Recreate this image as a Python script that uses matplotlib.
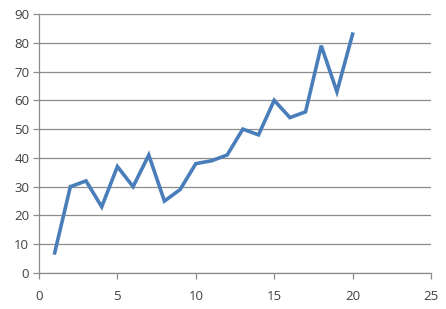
import matplotlib
matplotlib.use("Agg")
import matplotlib.pyplot as plt

x_vals = list(range(1, 21))
y_vals = [7, 30, 32, 23, 37, 30, 41, 25, 29, 38, 39, 41, 50, 48, 60, 54, 56, 79, 63, 83]

plt.rcParams['font.family'] = ['Open Sans', 'DejaVu Sans']

fig = plt.figure(figsize=(4.46, 3.09), dpi=100)
ax = fig.add_axes([39/446, 36/309, 392/446, 259/309])

ax.plot(x_vals, y_vals, color='#4a7ebb', linewidth=2.6, solid_joinstyle='miter')

ax.set_xlim(0, 25)
ax.set_ylim(0, 90)
ax.set_xticks(range(0, 26, 5))
ax.set_yticks(range(0, 91, 10))
ax.yaxis.grid(True, color='#8c8c8c', linewidth=0.9)
ax.set_axisbelow(True)

for s in ['top', 'right']:
    ax.spines[s].set_visible(False)
for s in ['left', 'bottom']:
    ax.spines[s].set_color('#8c8c8c')
    ax.spines[s].set_linewidth(0.9)

ax.tick_params(axis='both', colors='#8c8c8c', labelcolor='#404040', labelsize=9.5, length=4, width=0.9)
ax.tick_params(axis='x', pad=8)
ax.tick_params(axis='y', pad=3)

fig.savefig('out.png', dpi=100)
